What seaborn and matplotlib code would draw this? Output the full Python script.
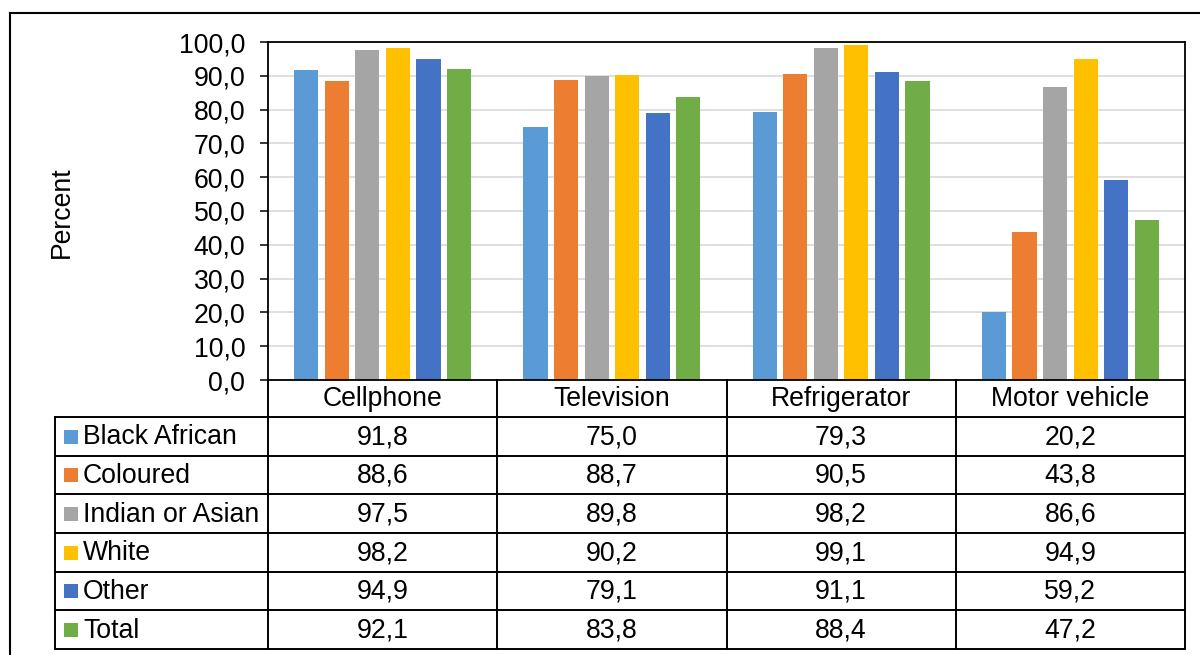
import matplotlib
matplotlib.use("Agg")
import matplotlib.pyplot as plt
from matplotlib.lines import Line2D
from matplotlib.patches import Rectangle
from matplotlib.ticker import FuncFormatter, MultipleLocator
import numpy as np
import pandas as pd
import seaborn as sns

# ---------------- data ----------------
items = ["Cellphone", "Television", "Refrigerator", "Motor vehicle"]
groups = ["Black African", "Coloured", "Indian or Asian", "White", "Other", "Total"]
black_african = [91.8, 75.0, 79.3, 20.2]
coloured = [88.6, 88.7, 90.5, 43.8]
indian_asian = [97.5, 89.8, 98.2, 86.6]
white = [98.2, 90.2, 99.1, 94.9]
other = [94.9, 79.1, 91.1, 59.2]
total = [92.1, 83.8, 88.4, 47.2]
colors = ["#5B9BD5", "#ED7D31", "#A5A5A5", "#FFC000", "#4472C4", "#70AD47"]
y_label = "Percent"

series = [black_african, coloured, indian_asian, white, other, total]
rows = []
for g, vals in zip(groups, series):
    for it, v in zip(items, vals):
        rows.append({"item": it, "group": g, "value": v})
df = pd.DataFrame(rows)

# ---------------- layout ----------------
W, H = 1200, 655
plt.rcParams["font.family"] = ["Liberation Sans", "DejaVu Sans"]
FS = 19.2

fig = plt.figure(figsize=(W / 100, H / 100), dpi=100)

def fx(x):
    return x / W

def fy(y):
    return 1 - y / H

L, R, T, B = 268, 1185, 42, 380
ax = fig.add_axes([fx(L), fy(B), fx(R - L), (B - T) / H])

sns.barplot(data=df, x="item", y="value", hue="group", order=items,
            hue_order=groups, palette=colors, saturation=1, width=0.8,
            gap=0.21, ax=ax, legend=False, errorbar=None, linewidth=0)

ax.set_ylim(0, 100)
ax.set_xlim(-0.5, len(items) - 0.5)
ax.yaxis.set_major_locator(MultipleLocator(10))
ax.yaxis.set_major_formatter(FuncFormatter(lambda v, p: f"{v:.1f}".replace(".", ",")))
ax.tick_params(axis="y", labelsize=FS, length=5.8, width=1.1, pad=10.5,
               direction="out", color="black", labelcolor="black")
ax.tick_params(axis="x", bottom=False, labelbottom=False)
ax.set_xlabel("")
ax.set_ylabel("")
ax.grid(axis="y", color="#D9D9D9", linewidth=1.2)
ax.set_axisbelow(True)
for s in ["left", "right", "top", "bottom"]:
    ax.spines[s].set_visible(True)
    ax.spines[s].set_color("black")
    ax.spines[s].set_linewidth(1.3)

fig.text(fx(62), fy(212), y_label, rotation=90, ha="center", va="center",
         fontsize=FS, color="black")

# ---------------- data table ----------------
lw = 1.4
col_edges = [L + (R - L) * i / len(items) for i in range(len(items) + 1)]
row_edges = [380, 417, 456, 494, 533, 572, 610, 649]
leg_left = 55

def line(x0, y0, x1, y1, lw_=lw):
    fig.add_artist(Line2D([fx(x0), fx(x1)], [fy(y0), fy(y1)], color="black",
                          linewidth=lw_, transform=fig.transFigure,
                          solid_capstyle="projecting"))

# horizontal lines
for i, y in enumerate(row_edges):
    if i == 0:
        continue
    line(leg_left, y, R, y)
# vertical lines
for x in col_edges:
    line(x, row_edges[0], x, row_edges[-1])
line(leg_left, row_edges[1], leg_left, row_edges[-1])

# header
for i, it in enumerate(items):
    cx = (col_edges[i] + col_edges[i + 1]) / 2
    cy = (row_edges[0] + row_edges[1]) / 2 + 1
    fig.text(fx(cx), fy(cy), it, ha="center", va="center", fontsize=FS, color="black")

# rows
for r, (g, vals, c) in enumerate(zip(groups, series, colors)):
    cy = (row_edges[r + 1] + row_edges[r + 2]) / 2 + 1
    fig.add_artist(Rectangle((fx(64), fy(cy + 6)), fx(14), 14 / H, facecolor=c,
                             edgecolor="none", transform=fig.transFigure))
    fig.text(fx(83), fy(cy), g, ha="left", va="center", fontsize=FS, color="black")
    for i, v in enumerate(vals):
        cx = (col_edges[i] + col_edges[i + 1]) / 2
        fig.text(fx(cx), fy(cy), f"{v:.1f}".replace(".", ","), ha="center",
                 va="center", fontsize=FS, color="black")

# outer chart frame
line(10, 13, W + 5, 13, 1.5)
line(10, 13, 10, H + 5, 1.5)

fig.savefig("out.png", dpi=100)
